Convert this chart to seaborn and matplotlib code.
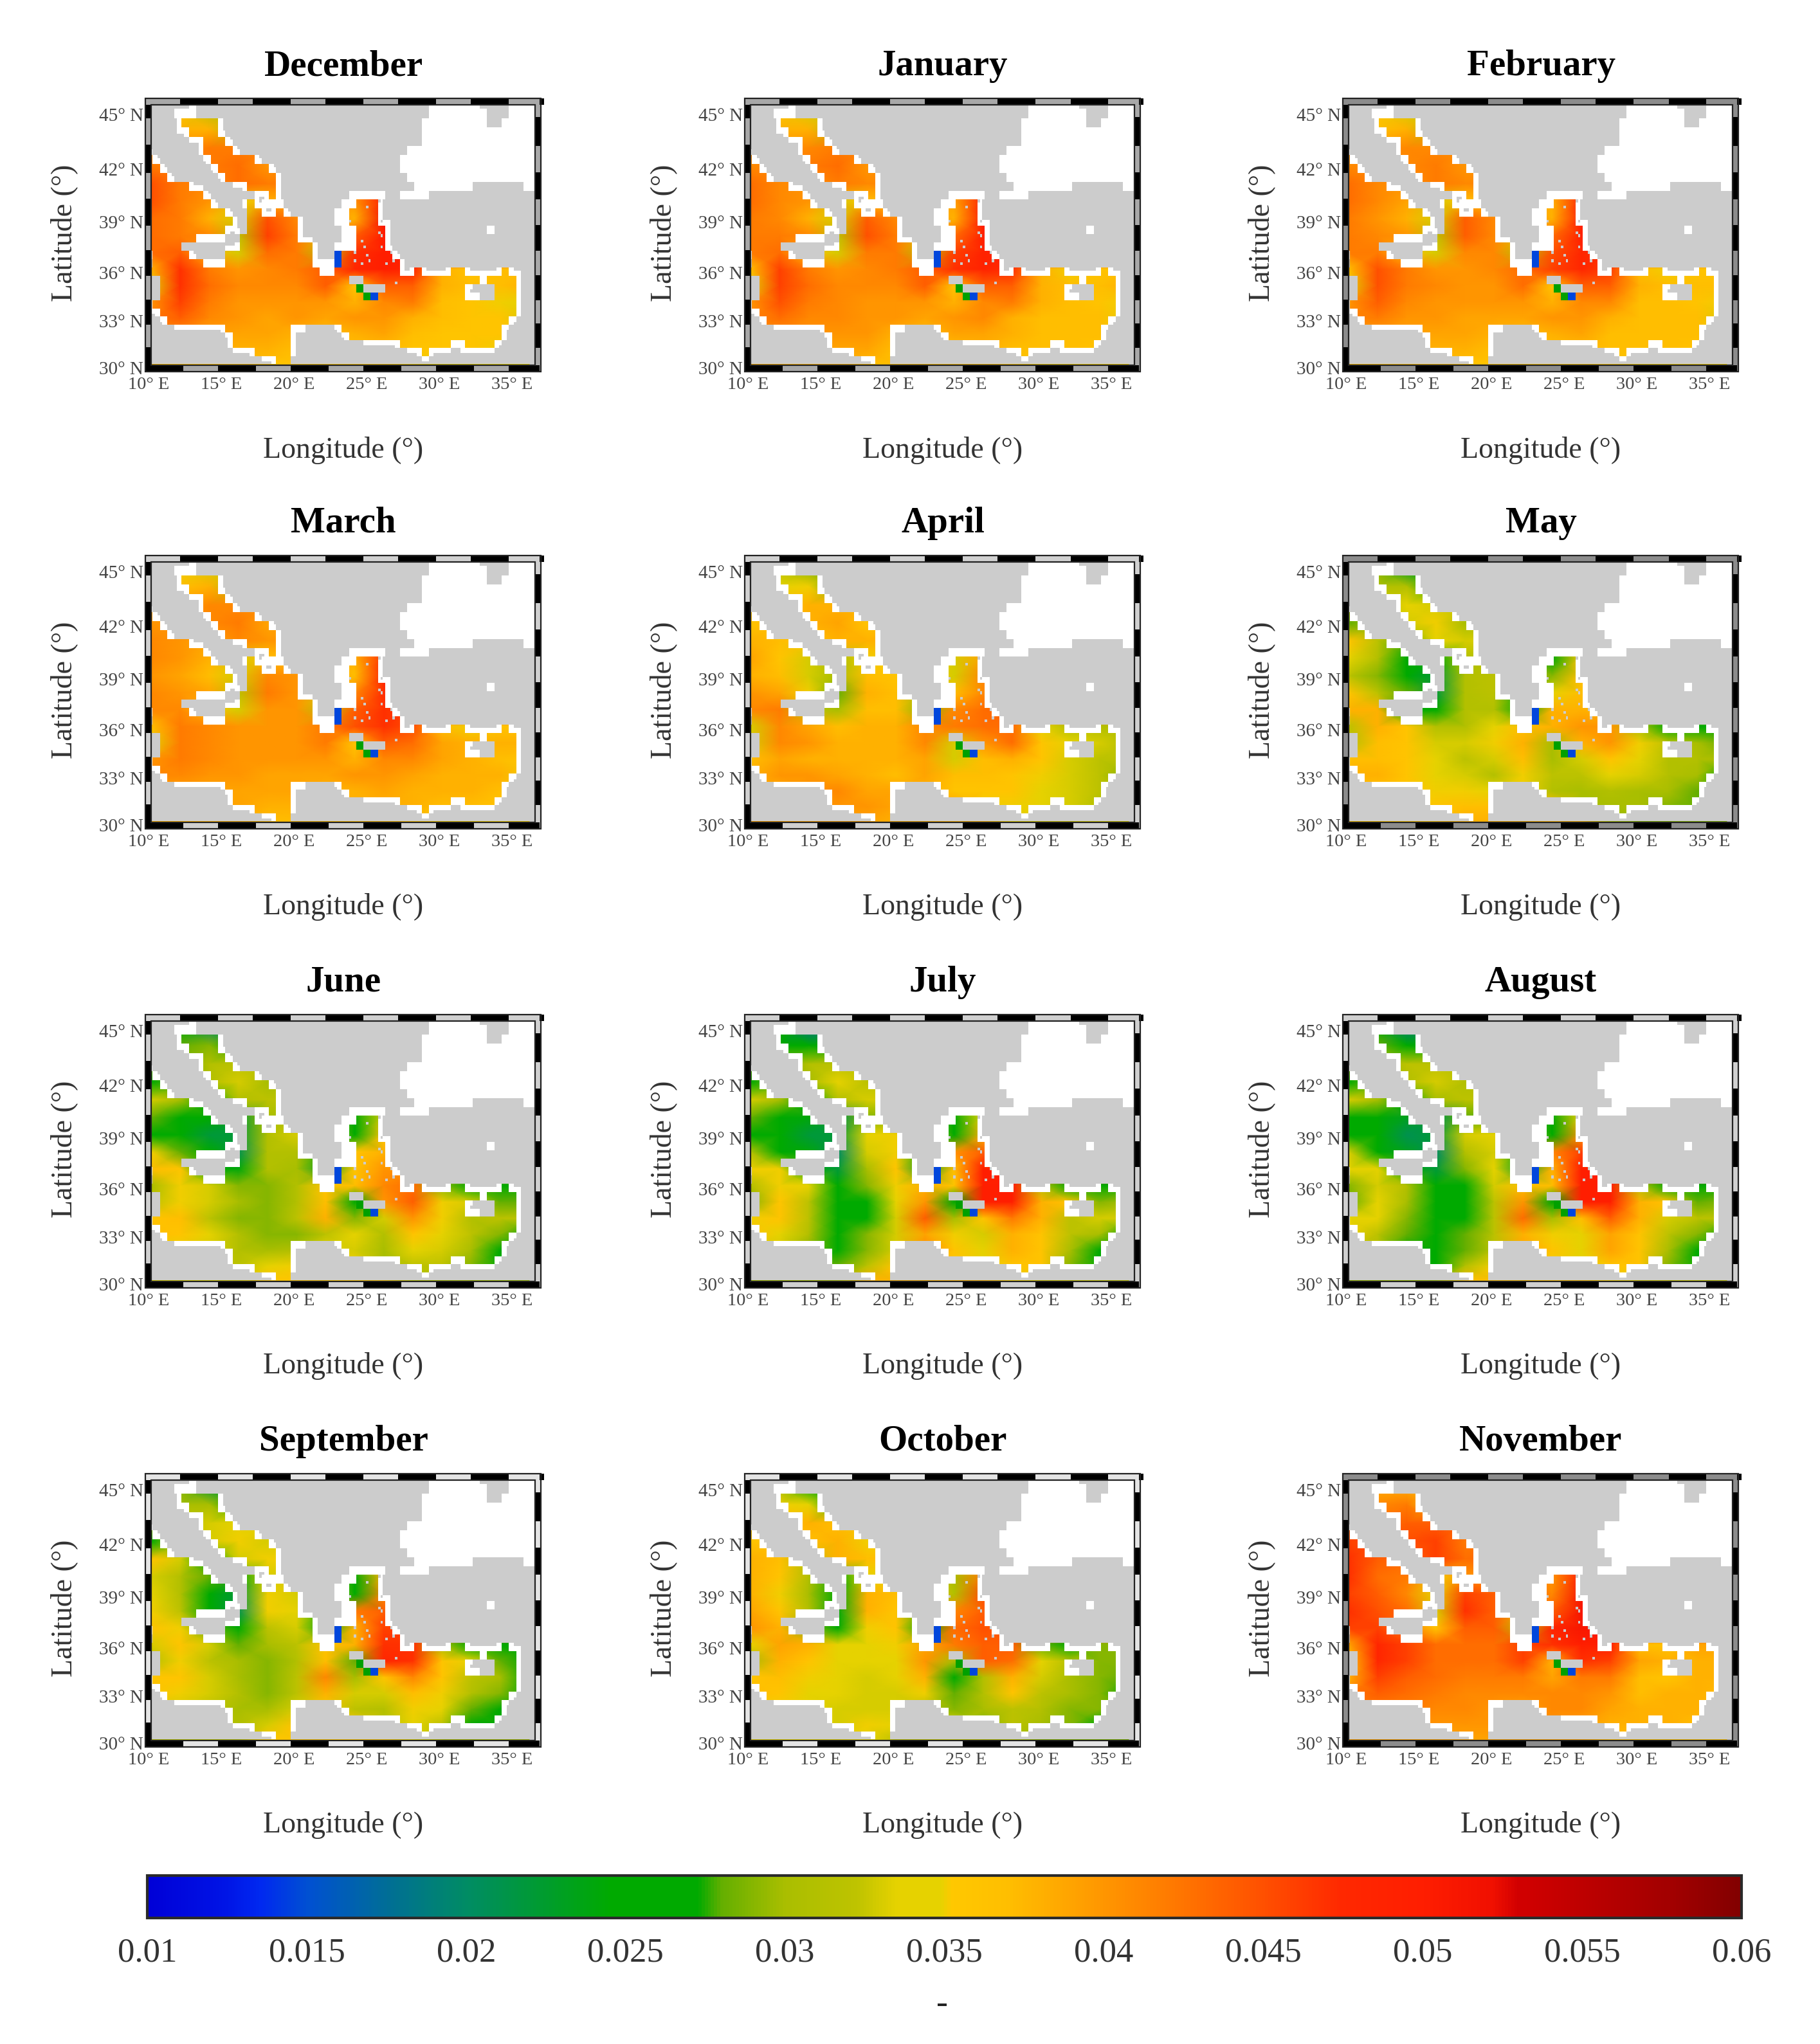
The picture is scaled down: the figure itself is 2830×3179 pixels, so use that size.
# -*- coding: utf-8 -*-
# Monthly maps over the Mediterranean, twelve panels and one shared colour bar
import numpy as np
import pandas as pd
import seaborn as sns
import matplotlib
matplotlib.use("Agg")
import matplotlib.pyplot as plt
from matplotlib.colors import LinearSegmentedColormap, ListedColormap
from matplotlib.patches import Rectangle

months = ["December", "January", "February", "March", "April", "May",
          "June", "July", "August", "September", "October", "November"]
lon_nodes = [10, 12, 14, 16, 18, 20, 22, 24, 26, 28, 30, 32, 34, 36]
lat_nodes = [45, 44, 43, 42, 41, 40, 39, 38, 37, 36, 35, 34, 33, 32, 31, 30]
lat_ticks = [30, 33, 36, 39, 42, 45]
lon_ticks = [10, 15, 20, 25, 30, 35]
cbar_ticks = [0.01, 0.015, 0.02, 0.025, 0.03, 0.035, 0.04, 0.045, 0.05, 0.055, 0.06]
cbar_labels = ["0.01", "0.015", "0.02", "0.025", "0.03", "0.035", "0.04", "0.045", "0.05", "0.055", "0.06"]

# values are in thousandths, one row per latitude in lat_nodes, '-' where there is no sea nearby
december = """
- 36 32
- 38 38 30
- 40 42 42
42 42 42 43 40
45 42 41 43 42
45 42 40 34 38 - - 40 50
43 42 38 33 45 41 - 38 51 48
43 42 41 32 46 42 35 44 50 48
43 44 38 33 43 42 32 47 50 49
38 47 42 40 41 42 44 48 50 48 38 36 37
34 47 43 41 41 41 44 36 44 44 38 37 37 38
40 46 42 40 40 40 40 38 41 42 37 36 35 34
42 44 41 40 39 40 39 40 40 38 37 36 36 33
- 40 39 39 39 38 37 38 39 37 36 36 36 35
- - 38 38 38 37 - - 37 36 36 36 35
- - - 37 36 36 - - - 35 34
"""
january = """
- 36 33
- 38 38 30
- 40 41 42
41 41 42 43 40
43 41 40 42 41
43 41 40 33 37 - - 39 49
42 41 38 33 44 41 - 38 50 46
42 42 41 32 45 42 35 43 49 47
42 43 37 33 42 42 32 46 49 48
37 46 42 40 41 42 44 47 49 47 38 35 36
34 46 43 41 41 41 44 36 44 44 38 37 37 38
40 45 42 41 40 40 40 38 41 42 38 37 36 35
41 43 41 41 40 40 39 40 41 38 37 37 37 34
- 40 40 40 40 38 37 39 39 38 37 37 37 35
- - 39 39 39 37 - - 38 37 37 37 36
- - - 38 37 37 - - - 36 35
"""
february = """
- 36 33
- 37 38 30
- 40 41 41
41 41 41 42 40
43 41 40 42 41
43 41 39 33 37 - - 38 48
42 40 38 33 44 41 - 38 49 46
42 41 40 32 44 41 35 43 49 46
42 42 37 33 41 41 32 45 48 47
37 45 42 40 40 41 43 46 48 46 37 35 36
34 45 42 41 40 40 43 36 44 44 38 37 37 37
40 44 41 40 40 40 40 38 41 41 37 37 36 35
41 42 40 40 39 39 39 40 40 38 37 37 37 33
- 39 39 39 39 38 37 38 39 37 37 37 37 35
- - 38 38 38 37 - - 37 37 37 37 36
- - - 37 36 36 - - - 36 35
"""
march = """
- 35 33
- 37 38 30
- 39 41 41
40 40 41 42 39
41 40 39 41 40
41 40 38 33 37 - - 38 47
40 39 37 33 41 40 - 37 48 45
41 40 39 32 42 40 34 41 47 45
41 41 37 33 40 40 32 44 47 46
37 42 41 40 40 40 42 45 47 45 37 35 36
34 42 41 40 40 40 42 36 44 43 39 38 38 38
40 42 41 40 40 40 40 38 41 41 39 38 37 36
41 41 40 40 39 39 39 40 40 39 38 38 38 35
- 39 39 39 39 39 38 38 39 38 38 38 37 35
- - 38 39 38 38 - - 38 38 37 37 36
- - - 38 37 37 - - - 36 35
"""
april = """
- 32 29
- 34 35 28
- 36 38 38
36 37 38 39 36
38 37 36 38 38
39 36 33 30 35 - - 33 39
38 37 33 30 37 36 - 33 41 36
40 39 35 28 38 37 30 37 41 38
41 42 32 30 37 37 29 41 43 44
33 41 39 37 38 38 41 42 43 43 34 31 31
33 41 40 38 38 38 41 33 40 43 36 34 33 31
37 39 38 38 38 38 39 33 37 38 36 33 32 32
38 40 40 39 38 37 39 37 37 36 35 33 32 29
- 38 40 41 39 39 38 36 36 36 34 33 32 30
- - 39 40 40 39 - - 35 35 34 33 31
- - - 39 39 38 - - - 34 33
"""
may = """
- 29 23
- 31 31 26
- 32 34 33
28 30 33 35 30
36 32 28 34 33
34 31 27 26 31 - - 27 36
32 29 26 22 31 32 - 29 37 32
36 32 28 22 31 32 27 34 37 36
38 38 27 26 31 31 25 38 38 37
32 38 36 31 31 34 37 38 40 40 30 26 27
31 37 36 33 33 35 38 30 38 40 35 32 30 28
37 37 36 34 32 33 37 30 33 36 34 31 31 30
38 38 36 34 33 31 35 32 32 34 33 31 30 26
- 36 36 35 35 34 35 31 30 31 30 30 28 27
- - 35 36 37 37 - - 30 30 30 29 28
- - - 36 38 38 - - - 30 29
"""
june = """
- 26 20
- 28 29 24
- 29 31 32
25 28 31 33 30
33 30 26 31 32
28 27 25 22 30 - - 27 33
27 26 22 22 31 33 - 27 36 32
35 28 25 21 31 31 26 36 38 35
37 36 27 24 31 30 23 36 40 40
30 35 33 29 29 31 36 37 41 43 29 25 26
32 35 33 30 29 31 37 27 40 44 35 33 28 28
36 37 32 29 29 32 38 29 33 40 35 31 32 32
37 36 34 31 29 29 32 34 31 36 34 32 29 26
- 34 33 31 30 31 34 33 30 34 33 30 26 25
- - 32 32 34 35 - - 30 32 32 29 26
- - - 33 36 36 - - - 31 30
"""
july = """
- 25 18
- 27 27 24
- 29 31 32
26 29 30 34 32
33 30 25 31 33
28 26 24 21 29 - - 25 34
27 26 22 22 34 35 - 26 38 33
31 27 24 20 33 35 26 40 44 38
35 35 27 22 30 36 23 37 50 48
31 35 34 26 29 35 38 36 50 50 31 26 26
29 36 32 26 27 34 40 27 50 50 38 36 29 30
35 36 32 25 27 33 44 30 36 42 38 32 33 33
36 34 31 26 29 33 39 35 33 38 36 32 30 26
- 33 29 26 29 33 41 36 34 38 36 30 27 24
- - 27 28 32 36 - - 34 36 36 29 26
- - - 31 38 38 - - - 35 33
"""
august = """
- 26 19
- 28 27 24
- 30 32 32
26 29 31 33 31
33 30 25 30 32
27 26 23 21 28 - - 25 35
27 25 21 22 33 34 - 26 40 34
33 27 23 20 31 33 26 41 46 40
34 34 26 22 29 34 23 38 50 49
29 33 31 25 27 33 37 37 50 50 31 26 26
28 34 30 25 26 32 40 27 50 50 38 36 28 29
34 34 29 25 27 32 43 30 37 44 38 33 32 32
35 32 28 25 28 32 38 35 34 39 36 32 29 25
- 31 27 25 28 32 39 36 34 39 36 30 27 24
- - 26 27 31 35 - - 34 36 36 29 26
- - - 30 37 37 - - - 35 33
"""
september = """
- 29 22
- 30 30 25
- 32 33 34
27 32 33 35 33
36 33 27 33 35
33 31 28 24 33 - - 27 38
34 31 25 22 35 33 - 27 41 36
35 32 26 21 35 34 27 42 44 39
36 35 28 25 32 33 24 38 46 46
33 36 33 28 30 32 36 38 47 47 30 25 25
31 35 32 30 29 31 37 28 48 47 36 34 28 26
36 36 33 30 29 32 41 30 36 41 36 32 30 27
36 35 33 31 29 32 38 33 33 37 35 31 29 25
- 33 32 30 30 33 35 32 31 35 34 28 26 24
- - 31 31 33 36 - - 32 34 32 27 25
- - - 31 36 36 - - - 33 31
"""
october = """
- 30 27
- 35 34 26
- 36 38 37
36 36 37 38 35
38 37 32 38 37
38 36 31 26 34 - - 30 42
38 35 30 26 38 37 - 31 45 39
39 36 31 24 38 36 28 41 44 39
40 38 29 27 35 36 27 43 45 44
34 39 38 34 34 35 39 42 44 44 28 27 29
30 38 36 34 34 34 40 30 44 43 34 31 29 29
36 37 35 34 33 34 38 26 31 38 33 30 29 28
37 36 34 34 33 33 35 28 31 36 32 30 29 25
- 35 34 33 33 33 31 29 30 32 31 29 29 28
- - 34 33 35 34 - - 29 32 30 29 27
- - - 34 34 32 - - - 31 29
"""
november = """
- 38 38
- 41 42 35
- 42 44 44
46 45 45 46 42
47 44 43 46 43
47 43 42 35 40 - - 40 50
46 44 41 34 46 44 - 41 51 48
47 45 43 33 47 44 36 44 51 48
46 46 42 36 44 44 32 48 51 50
39 48 46 43 43 43 46 47 50 50 37 36 39
36 48 46 43 43 43 46 38 47 46 39 38 38 38
38 46 44 43 42 42 42 39 42 42 37 36 38 38
42 44 43 42 41 41 41 41 41 40 37 38 38 37
- 42 42 41 41 40 39 41 41 39 38 38 38 37
- - 40 40 40 40 - - 39 38 38 38 37
- - - 39 39 39 - - - 37 36
"""
month_fields = [december, january, february, march, april, may,
                june, july, august, september, october, november]

# half degree cells from north to south: w white, c white along the shore only,
# . sea, b blue, g green, the rest is land; a token is a letter and a column or a range
coast_rows = [
    "w6 w39-45 w50-53",
    "w4-6 w39-46 w50-53",
    "c4 .5-9 c10 w38-46 w49-53",
    "c4-5 .6-9 c10 w38-53",
    "c6-7 .8-10 c11 w38-53",
    "c0 c7 .8-11 c12 w36-53",
    ".0 c1 c8 .9-14 c15 w35-53",
    ".0-1 c2 c9 .10-16 c17 w35-53",
    ".0-2 c3 c10 .11-17 c18 w36-53",
    ".0-5 c6-7 c12-13 .14-17 c18 w37-44 w52-53",
    ".0-7 c8 c15-16 .17 c18 w28-32 w35-38",
    ".0-8 c9 c13 .14 c15 w16-18 w27-28 .29-31 c32-33",
    ".0-10 c11 .14-15 c16-17 .18 c19 w26-27 .28-31 c32",
    ".0-11 c12 .14-20 c21 w26-27 .28-31 c32-33",
    ".0-10 c11-12 .14-20 c21 w27-28 .29-32 c33 w47",
    ".0-6 w7-10 .13-20 c21-22 w27-28 .29-32 c33",
    ".0-4 c11-12 .13-22 c23 w26-28 .29-32 c33",
    "c0 .1-5 c6 .11-22 c23 b26 .27-33 c34",
    ".1-7 w8-10 .11-22 w23-25 b26 .27-34 c35",
    ".0-23 w24-25 .26-34 c35-36 .37 c38-41 .42-43 c44-48 .49 c50-51",
    ".2-27 .30-45 w46 .47-50 c51",
    ".2-28 g29 .33-43 c44 .48-50 c51",
    ".2-29 g30 b31 .32-43 w44-45 .48-50 c51",
    "c0 .1-50 c51",
    "c0-1 .2-50 c51",
    "c2 .3-49 c50",
    "c4-10 .11-19 w20-21 c26 .27-48 c49",
    "c11 .12-19 c20 c27 .28-48 c49",
    "c11 .12-19 c20 c30-34 .35-41 w42-43 .44-47 c48",
    "c12-14 .15-19 c20 c36-37 .38 c39-41 c43-47",
    "c16-17 .18-19 c38",
]
# small islands in the Aegean
islet_lon = [24.8, 25.6, 23.6, 25.77, 25.6, 25.84, 24.44, 24.74, 25.84, 24.07, 24.89, 24.07, 24.59, 24.96, 26.14, 26.66, 26.51, 26.8]
islet_lat = [39.7, 40.0, 38.9, 38.9, 38.2, 37.95, 37.6, 37.35, 37.35, 37.05, 36.8, 36.5, 36.3, 36.5, 36.3, 36.5, 37.05, 35.2]

cmap_stops = [(0.0, "#0000d7"), (0.048, "#0014e6"), (0.07, "#0028f0"), (0.10, "#0050d2"),
              (0.15, "#006e96"), (0.20, "#008c64"), (0.29, "#00aa00"), (0.345, "#00aa00"),
              (0.36, "#64af00"), (0.40, "#aabe00"), (0.445, "#bec300"), (0.47, "#e6d200"),
              (0.498, "#e6d200"), (0.505, "#ffc800"), (0.54, "#ffbe00"), (0.60, "#ff9600"),
              (0.645, "#ff7800"), (0.70, "#ff5000"), (0.75, "#ff2800"), (0.80, "#ff1e00"),
              (0.845, "#f00f00"), (0.86, "#d20000"), (0.90, "#be0000"), (0.96, "#a00000"),
              (1.0, "#820000")]

W, H = 2830, 3179
panel_left = [226, 1158, 2088]
panel_top = [154, 865, 1579, 2293]
lon0, lat0 = 9.6, 30.1
sub = 3  # the coast is drawn in sixths of a degree


def col_of(lon):
    return (np.asarray(lon, dtype=float) - lon0) * 2 * sub


def row_of(lat):
    return (np.asarray(lat, dtype=float) - lat0) * 2 * sub


def to_merc(k):
    # row number to mercator height, the latitudes are not evenly spaced on the page
    lat = np.radians(lat0 + np.asarray(k, dtype=float) / (2 * sub))
    return np.arcsinh(np.tan(lat))


def from_merc(y):
    lat = np.degrees(np.arctan(np.sinh(np.asarray(y, dtype=float))))
    return (lat - lat0) * 2 * sub


def parse_field(text):
    rows = []
    for line in text.strip().splitlines():
        vals = [np.nan if t == "-" else float(t) for t in line.split()]
        rows.append(vals + [np.nan] * (len(lon_nodes) - len(vals)))
    df = pd.DataFrame(rows, index=lat_nodes, columns=lon_nodes)
    # cells far from the sea stay hidden under the land mask
    df = df.ffill(axis=1).bfill(axis=1).ffill(axis=0).bfill(axis=0)
    return df * 0.001


def parse_coast(rows):
    codes = {"w": 1, ".": -1, "b": 2, "g": 3, "c": 4}
    grid = np.zeros((len(rows), 54))
    for i, row in enumerate(rows):
        for token in row.split():
            span = token[1:].split("-")
            grid[i, int(span[0]):int(span[-1]) + 1] = codes[token[0]]
    grid = np.kron(grid[::-1], np.ones((sub, sub)))

    # shore cells stay white only close to the sea
    near = np.isin(grid, [-1, 2, 3])
    for _ in range(2):
        padded = np.pad(near, 1)
        near = np.zeros_like(near)
        for dy in (-1, 0, 1):
            for dx in (-1, 0, 1):
                near |= np.roll(np.roll(padded, dy, axis=0), dx, axis=1)[1:-1, 1:-1]
    grid[(grid == 4) & near] = 1
    grid[grid == 4] = 0

    for lon, lat in zip(islet_lon, islet_lat):
        grid[int(row_of(lat)), int(col_of(lon))] = 0
    return pd.DataFrame(grid)


def add_axes_px(left, top, width, height):
    return fig.add_axes([left / W, 1 - (top + height) / H, width / W, height / H])


def draw_frame(ax, grey):
    bx, by = 9 / 597, 10 / 405
    top_tr, side_tr = ax.get_xaxis_transform(), ax.get_yaxis_transform()
    for x, y, w, h in [(-bx, -by, 1 + 2 * bx, by), (-bx, 1, 1 + 2 * bx, by),
                       (-bx, 0, bx, 1), (1, 0, bx, 1)]:
        ax.add_patch(Rectangle((x, y), w, h, transform=ax.transAxes, color=grey,
                               clip_on=False, zorder=5, lw=0))
    # bars along the top and bottom, 5 degrees apart
    for start, y in [(12.0, 1), (9.6, -by)]:
        for j in range(6):
            a = start + 5 * j
            b = min(a + 2.6, 36.7)
            ax.add_patch(Rectangle((col_of(a), y), col_of(b) - col_of(a), by, transform=top_tr,
                                   color="black", clip_on=False, zorder=6, lw=0))
    # bars along the sides, 3 degrees apart
    for start, x in [(29.6, -bx), (31.1, 1)]:
        for j in range(6):
            a = max(row_of(start + 3 * j), ax.get_ylim()[0])
            b = min(row_of(start + 1.55 + 3 * j), ax.get_ylim()[1])
            if b > a:
                ax.add_patch(Rectangle((x, a), bx, b - a, transform=side_tr,
                                       color="black", clip_on=False, zorder=6, lw=0))
    ax.add_patch(Rectangle((-bx, -by), 1 + 2 * bx, 1 + 2 * by, transform=ax.transAxes, fill=False,
                           ec="#222222", lw=1.6, clip_on=False, zorder=7))
    ax.add_patch(Rectangle((0, 0), 1, 1, transform=ax.transAxes, fill=False,
                           ec="#222222", lw=1.6, clip_on=False, zorder=7))


sns.set_theme(style="white")
plt.rcParams["font.family"] = ["Liberation Serif", "DejaVu Serif"]

value_cmap = LinearSegmentedColormap.from_list("waves", cmap_stops, N=512)
coast_cmap = ListedColormap(["#cccccc", "#ffffff", "#0046dc", "#00a000"])
coast = parse_coast(coast_rows)
band_greys = ["#a8a8a8", "#a8a8a8", "#8c8c8c", "#d0d0d0", "#d0d0d0", "#8c8c8c",
              "#d0d0d0", "#d0d0d0", "#d0d0d0", "#e4e4e4", "#e4e4e4", "#8c8c8c"]

fig = plt.figure(figsize=(W / 100, H / 100), dpi=100)
xx, yy = np.meshgrid(col_of(lon_nodes), row_of(lat_nodes))

for i, (month, text) in enumerate(zip(months, month_fields)):
    left, top = panel_left[i % 3], panel_top[i // 3]
    ax = add_axes_px(left + 9, top + 9, 597, 405)
    ax.set_facecolor("#cccccc")

    sns.heatmap(coast, mask=coast.values < 0, cmap=coast_cmap, vmin=0, vmax=3, cbar=False,
                xticklabels=False, yticklabels=False, ax=ax)
    mesh = ax.pcolormesh(xx, yy, parse_field(text).values, shading="gouraud",
                         cmap=value_cmap, vmin=0.01, vmax=0.06, zorder=0.5)

    ax.set_yscale("function", functions=(to_merc, from_merc))
    ax.set_xlim(col_of(10.0), col_of(36.4))
    ax.set_ylim(-0.1 * 2 * sub, 15.2 * 2 * sub)
    ax.set_xticks([])
    ax.set_yticks([])
    sns.despine(ax=ax, left=True, bottom=True)
    draw_frame(ax, band_greys[i])

    # the labels sit a little off the grid, as on the original page
    for lat in lat_ticks:
        ax.text(-0.02, row_of(lat - 0.3), f"{lat}° N", transform=ax.get_yaxis_transform(),
                ha="right", va="center", fontsize=21, color="#444444", clip_on=False)
    for lon in lon_ticks:
        ax.text(col_of(lon - 0.18), -0.075, f"{lon}° E", transform=ax.get_xaxis_transform(),
                ha="center", va="center", fontsize=20.5, color="#444444", clip_on=False)

    cx = left + 308
    fig.text(cx / W, 1 - (top - 51) / H, month, ha="center", va="center",
             fontsize=41, fontweight="bold", color="black")
    fig.text(cx / W, 1 - (top + 546) / H, "Longitude (°)", ha="center", va="center",
             fontsize=33, color="#333333")
    fig.text((left - 126) / W, 1 - (top + 208) / H, "Latitude (°)", ha="center", va="center",
             rotation=90, fontsize=33, color="#333333")

cax = add_axes_px(229, 2917, 2479, 66)
cbar = fig.colorbar(mesh, cax=cax, orientation="horizontal", ticks=cbar_ticks)
cbar.set_ticklabels(cbar_labels)
cax.tick_params(axis="x", direction="in", length=20, width=1.2, color="#222222",
                pad=22, labelsize=38, labelcolor="#333333")
cbar.outline.set_edgecolor("#2a2a2a")
cbar.outline.set_linewidth(3)
fig.text(1465 / W, 1 - 3118 / H, "-", ha="center", va="center", fontsize=39, color="#222222")

fig.savefig("out.png", dpi=100)
